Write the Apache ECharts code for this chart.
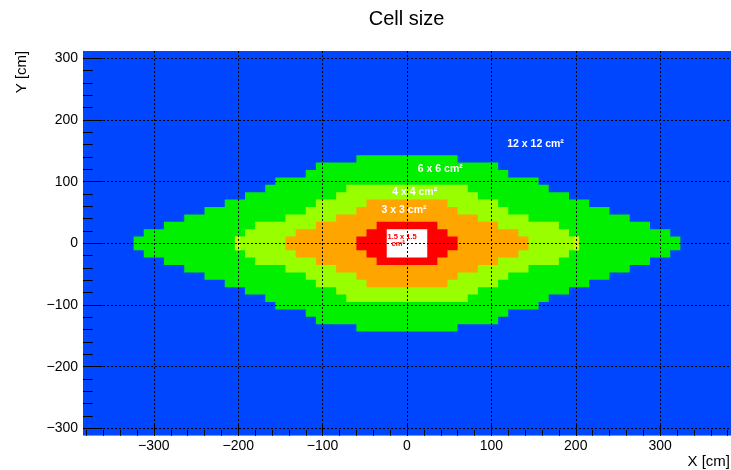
<!DOCTYPE html>
<html><head><meta charset="utf-8">
<script src="https://cdn.jsdelivr.net/npm/echarts@6/dist/echarts.min.js"></script>
<style>html,body{margin:0;padding:0;background:#fff}#c{width:731px;height:470px}</style>
</head><body><div id="c"></div>
<script>
// ---- axis ranges & ticks (cm) ----
const xRange = [-384, 384];
const yRange = [-312, 312];
const majorTicks = [-300, -200, -100, 0, 100, 200, 300];
const xMinorTicks = [];
for (let v = -380; v <= 380; v += 20) if (v % 100 !== 0) xMinorTicks.push(v);
const yMinorTicks = [];
for (let v = -300; v <= 300; v += 20) if (v % 100 !== 0) yMinorTicks.push(v);

// ---- zones: staircase of each cell-size region (x half-extent of each step, y half-height) ----
const zoneColors = ['#0046ff', '#00f000', '#99ff00', '#ffa500', '#ff0000', '#ffffff', '#c8f500'];
const greenX  = [60, 108, 120, 156, 168, 192, 216, 240, 264, 288, 312, 324];
const greenH  = [143, 131, 119, 107, 95, 83, 71, 59, 47, 35, 23, 11];
const limeX   = [72, 84, 108, 120, 144, 180, 192, 204];
const limeH   = [95, 83, 71, 59, 47, 35, 23, 11];
const orangeX = [48, 60, 84, 108, 132, 144];
const orangeH = [71, 59, 47, 35, 23, 11];
const redX    = [36, 48, 60];
const redH    = [35, 23, 11];
const whiteX  = [24];
const whiteH  = [23];
// narrow edge strip at the tip of the 4x4 zone [inner x, outer x, half-height]
const tipStrip = [198, 204, 11];

const rects = [];
rects.push([xRange[0], xRange[1], yRange[1], 0]);
function addZone(xs, hs, lvl) {
  xs.forEach((x, i) => rects.push([-x, x, hs[i], lvl]));
}
addZone(greenX, greenH, 1);
addZone(limeX, limeH, 2);
rects.push([tipStrip[0], tipStrip[1], tipStrip[2], 6]);
rects.push([-tipStrip[1], -tipStrip[0], tipStrip[2], 6]);
addZone(orangeX, orangeH, 3);
addZone(redX, redH, 4);
addZone(whiteX, whiteH, 5);

const FONT = '"Liberation Sans", Arial, sans-serif';
const fmt = v => String(v).replace('-', '\u2212');

function renderItem(params, api) {
  const x0 = api.value(0), x1 = api.value(1), h = api.value(2), lvl = api.value(3);
  const a = api.coord([x0, h]);
  const b = api.coord([x1, -h]);
  return {
    type: 'rect',
    shape: { x: a[0], y: a[1], width: b[0] - a[0], height: b[1] - a[1] },
    style: { fill: zoneColors[lvl] }
  };
}

function txt(text, x, y, size, color, weight, align) {
  return {
    type: 'text', x: x, y: y, z: 100,
    style: {
      text: text, fill: color,
      font: (weight || 'normal') + ' ' + size + 'px ' + FONT,
      align: align || 'center', verticalAlign: 'middle',
      textAlign: align || 'center', textVerticalAlign: 'middle'
    }
  };
}

const hiddenLine = { show: false, onZero: false };

const chart = echarts.init(document.getElementById('c'), null, { renderer: 'canvas' });
chart.setOption({
  animation: false,
  backgroundColor: '#ffffff',
  grid: { left: 83, top: 51, width: 648.5, height: 384.8, containLabel: false },
  xAxis: [{
    type: 'value', min: xRange[0], max: xRange[1], position: 'bottom', z: 10,
    axisLine: hiddenLine,
    axisTick: { show: true, inside: true, length: 11.5, customValues: majorTicks, lineStyle: { color: '#000', width: 1 } },
    axisLabel: { show: true, customValues: majorTicks, margin: 3, fontSize: 14, color: '#000', fontFamily: FONT, formatter: fmt },
    splitLine: { show: true, lineStyle: { color: '#000', width: 1, type: [2, 2] } }
  }, {
    type: 'value', min: xRange[0], max: xRange[1], position: 'bottom', offset: 0, z: 10,
    axisLine: hiddenLine,
    axisTick: { show: true, inside: true, length: 5.8, customValues: xMinorTicks, lineStyle: { color: '#000', width: 1 } },
    axisLabel: { show: false },
    splitLine: { show: false }
  }],
  yAxis: [{
    type: 'value', min: yRange[0], max: yRange[1], position: 'left', z: 10,
    axisLine: hiddenLine,
    axisTick: { show: true, inside: true, length: 19.4, customValues: majorTicks, lineStyle: { color: '#000', width: 1 } },
    axisLabel: { show: true, customValues: majorTicks, margin: 5, fontSize: 14, color: '#000', fontFamily: FONT, formatter: fmt },
    splitLine: { show: true, lineStyle: { color: '#000', width: 1, type: [2, 2] } }
  }, {
    type: 'value', min: yRange[0], max: yRange[1], position: 'left', offset: 0, z: 10,
    axisLine: hiddenLine,
    axisTick: { show: true, inside: true, length: 9.7, customValues: yMinorTicks, lineStyle: { color: '#000', width: 1 } },
    axisLabel: { show: false },
    splitLine: { show: false }
  }],
  series: [{
    type: 'custom',
    xAxisIndex: 0, yAxisIndex: 0,
    renderItem: renderItem,
    encode: { x: [0, 1], y: [2] },
    data: rects,
    clip: true,
    silent: true
  }],
  graphic: [
    txt('Cell size', 406.5, 19, 20, '#000'),
    txt('X [cm]', 730, 462, 15, '#000', 'normal', 'right'),
    Object.assign(txt('Y [cm]', 22, 72, 15, '#000'), { rotation: Math.PI / 2 }),
    txt('12 x 12 cm²', 535.5, 144.5, 10.5, '#fff', 'bold'),
    txt('6 x 6 cm²', 440.3, 169.5, 10.5, '#fff', 'bold'),
    txt('4 x 4 cm²', 414.7, 192.5, 10.5, '#fff', 'bold'),
    txt('3 x 3 cm²', 404, 210.5, 10.5, '#fff', 'bold'),
    txt('1.5 x 1.5', 387.5, 237, 7.5, '#ff0000', 'bold', 'left'),
    txt('cm²', 391.5, 243.8, 7.5, '#ff0000', 'bold', 'left')
  ]
});
</script>
</body></html>
